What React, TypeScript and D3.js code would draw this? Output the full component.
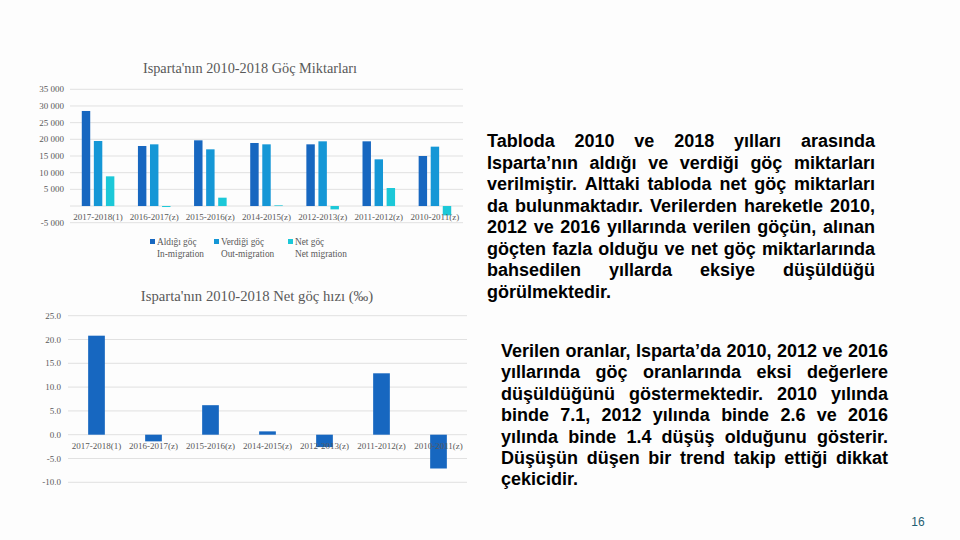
import * as d3 from "d3";

const categories = [
  "2017-2018(1)",
  "2016-2017(z)",
  "2015-2016(z)",
  "2014-2015(z)",
  "2012-2013(z)",
  "2011-2012(z)",
  "2010-2011(z)",
];
const inMigration = [28500, 18000, 19700, 18900, 18500, 19400, 15000];
const outMigration = [19500, 18500, 17000, 18500, 19400, 14000, 17800];
const netMigration = [8900, -300, 2500, 200, -1000, 5400, -2800];
const netRate = [20.8, -1.4, 6.2, 0.7, -2.6, 12.9, -7.1];

const countTicks = [35000, 30000, 25000, 20000, 15000, 10000, 5000, 0, -5000];
const rateTicks = [25, 20, 15, 10, 5, 0, -5, -10];

const seriesNames = [
  ["Aldığı göç", "In-migration"],
  ["Verdiği göç", "Out-migration"],
  ["Net göç", "Net migration"],
];
const seriesColors = ["#1767c0", "#1597d6", "#1cc8d8"];

const paragraph1 = [
  "Tabloda 2010 ve 2018 yılları arasında",
  "Isparta’nın aldığı ve verdiği göç miktarları",
  "verilmiştir. Alttaki tabloda net göç miktarları",
  "da bulunmaktadır. Verilerden hareketle 2010,",
  "2012 ve 2016 yıllarında verilen göçün, alınan",
  "göçten fazla olduğu ve net göç miktarlarında",
  "bahsedilen yıllarda eksiye düşüldüğü",
  "görülmektedir.",
];
const paragraph2 = [
  "Verilen oranlar, Isparta’da 2010, 2012 ve 2016",
  "yıllarında göç oranlarında eksi değerlere",
  "düşüldüğünü göstermektedir. 2010 yılında",
  "binde 7.1, 2012 yılında binde 2.6 ve 2016",
  "yılında binde 1.4 düşüş olduğunu gösterir.",
  "Düşüşün düşen bir trend takip ettiği dikkat",
  "çekicidir.",
];

const serif = "'Liberation Serif', serif";
const gray = "#595959";
const grid = "#d9d9d9";

const locale = d3.formatLocale({
  decimal: ".",
  thousands: " ",
  grouping: [3],
  currency: ["", ""],
  minus: "-",
});
const fmtCount = locale.format(",");
const fmtRate = locale.format(".1f");

let ctx: CanvasRenderingContext2D | null = null;
function textWidth(s: string, font: string) {
  if (!ctx) ctx = document.createElement("canvas").getContext("2d");
  ctx!.font = font;
  return ctx!.measureText(s).width;
}

// justified paragraph, word by word; last line left-aligned
function Justified({
  lines,
  x0,
  x1,
  y0,
  lineHeight,
  size = 18,
}: {
  lines: string[];
  x0: number;
  x1: number;
  y0: number;
  lineHeight: number;
  size?: number;
}) {
  const font = `bold ${size}px 'Liberation Sans'`;
  return (
    <g fontFamily="'Liberation Sans', Arial, sans-serif" fontWeight="bold" fontSize={size} fill="#000">
      {lines.map((line, li) => {
        const words = line.split(" ");
        const widths = words.map((w) => textWidth(w, font));
        const total = d3.sum(widths);
        const last = li === lines.length - 1;
        const gap = last || words.length < 2 ? textWidth(" ", font) : (x1 - x0 - total) / (words.length - 1);
        let x = x0;
        return words.map((w, wi) => {
          const el = (
            <text key={li + "-" + wi} x={x} y={y0 + li * lineHeight}>
              {w}
            </text>
          );
          x += widths[wi] + gap;
          return el;
        });
      })}
    </g>
  );
}

function CountChart() {
  const x = d3.scaleBand(categories, [70, 463]).paddingInner(0.42).paddingOuter(0.21);
  const inner = d3.scaleBand([0, 1, 2], [0, x.bandwidth()]).paddingInner(0.3);
  const y = d3.scaleLinear([-5000, 35000], [222.7, 89.3]);
  const series = [inMigration, outMigration, netMigration];
  return (
    <g>
      <text x={250} y={73} textAnchor="middle" fontFamily={serif} fontSize={14.3} fill={gray}>
        Isparta'nın 2010-2018 Göç Miktarları
      </text>
      {countTicks.map((t) => (
        <g key={t}>
          <line x1={70} x2={463} y1={y(t)} y2={y(t)} stroke={grid} strokeWidth={0.8} />
          {t !== 0 && (
            <text x={64} y={y(t) + 3} textAnchor="end" fontFamily={serif} fontSize={9} fill={gray}>
              {fmtCount(t)}
            </text>
          )}
        </g>
      ))}
      {categories.map((c, i) => (
        <g key={c} transform={`translate(${x(c)},0)`}>
          {series.map((s, j) => (
            <rect
              key={j}
              x={inner(j)}
              width={inner.bandwidth()}
              y={y(Math.max(0, s[i]))}
              height={Math.abs(y(s[i]) - y(0))}
              fill={seriesColors[j]}
            />
          ))}
        </g>
      ))}
      {categories.map((c) => (
        <text
          key={c}
          x={x(c)! + x.bandwidth() / 2}
          y={y(0) + 13.5}
          textAnchor="middle"
          fontFamily={serif}
          fontSize={9}
          fill={gray}
        >
          {c}
        </text>
      ))}
      {seriesNames.map((n, j) => {
        const lx = [150, 214, 288][j];
        return (
          <g key={j}>
            <rect x={lx} y={239} width={5} height={5} fill={seriesColors[j]} />
            <text x={lx + 7} y={244.5} fontFamily={serif} fontSize={9.3} fill={gray}>
              {n[0]}
            </text>
            <text x={lx + 7} y={257} fontFamily={serif} fontSize={9.3} fill={gray}>
              {n[1]}
            </text>
          </g>
        );
      })}
    </g>
  );
}

function RateChart() {
  const x = d3.scaleBand(categories, [68, 467]).paddingInner(0.707).paddingOuter(0.3535);
  const y = d3.scaleLinear([-10, 25], [482.3, 315.7]);
  return (
    <g>
      <text x={257} y={301} textAnchor="middle" fontFamily={serif} fontSize={14.7} fill={gray}>
        Isparta'nın 2010-2018 Net göç hızı (‰)
      </text>
      {rateTicks.map((t) => (
        <g key={t}>
          <line x1={68} x2={467} y1={y(t)} y2={y(t)} stroke={grid} strokeWidth={0.8} />
          <text x={61} y={y(t) + 3} textAnchor="end" fontFamily={serif} fontSize={9} fill={gray}>
            {fmtRate(t)}
          </text>
        </g>
      ))}
      {categories.map((c, i) => (
        <rect
          key={c}
          x={x(c)}
          width={x.bandwidth()}
          y={y(Math.max(0, netRate[i]))}
          height={Math.abs(y(netRate[i]) - y(0))}
          fill="#1767c0"
        />
      ))}
      {categories.map((c) => (
        <text
          key={c}
          x={x(c)! + x.bandwidth() / 2}
          y={y(0) + 14}
          textAnchor="middle"
          fontFamily={serif}
          fontSize={9}
          fill={gray}
        >
          {c}
        </text>
      ))}
    </g>
  );
}

export default function App() {
  return (
    <svg width={960} height={540} style={{ position: "absolute", left: 0, top: 0 }}>
      <rect width={960} height={540} fill="#fdfdfd" />
      <CountChart />
      <RateChart />
      <Justified lines={paragraph1} x0={487} x1={875} y0={147} lineHeight={21.5} />
      <Justified lines={paragraph2} x0={501} x1={888} y0={357} lineHeight={21.4} />
      <text x={918} y={526} textAnchor="middle" fontFamily="'Liberation Sans', sans-serif" fontSize={12} fill="#1f5f73">
        16
      </text>
    </svg>
  );
}
